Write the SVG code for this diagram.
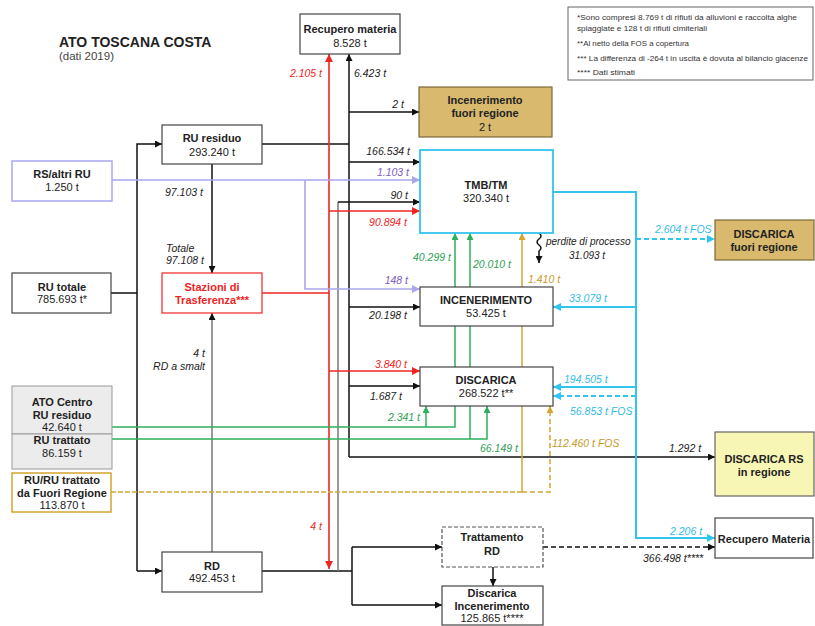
<svg xmlns="http://www.w3.org/2000/svg" width="815" height="626" viewBox="0 0 815 626">
<defs>
<style>
text{font-family:"Liberation Sans",Arial,sans-serif;fill:#222}
.t{font-size:11px;font-weight:bold;text-anchor:middle}
.v{font-size:11px;text-anchor:middle}
.l{font-size:10.5px;font-style:italic}
.e{text-anchor:end}
.box{fill:#fff;stroke:#444;stroke-width:1.2}
.k{stroke:#111;stroke-width:1.5;fill:none}
.g{stroke:#777;stroke-width:1.5;fill:none}
.r{stroke:#f02424;stroke-width:1.6;fill:none}
.p{stroke:#aaa6ee;stroke-width:1.6;fill:none}
.gr{stroke:#2db05c;stroke-width:1.5;fill:none}
.go{stroke:#d4a530;stroke-width:1.5;fill:none}
.c{stroke:#33c4ee;stroke-width:2;fill:none}
.d{stroke-dasharray:5,3}
.note{font-size:8px;fill:#333}
</style>
<marker id="ak" viewBox="0 0 10 10" refX="10" refY="5" markerWidth="7" markerHeight="7" orient="auto" markerUnits="userSpaceOnUse"><path d="M0,0L10,5L0,10z" fill="#111"/></marker>
<marker id="ar" viewBox="0 0 10 10" refX="10" refY="5" markerWidth="8" markerHeight="8" orient="auto" markerUnits="userSpaceOnUse"><path d="M0,0L10,5L0,10z" fill="#f02424"/></marker>
<marker id="ap" viewBox="0 0 10 10" refX="10" refY="5" markerWidth="8" markerHeight="8" orient="auto" markerUnits="userSpaceOnUse"><path d="M0,0L10,5L0,10z" fill="#aaa6ee"/></marker>
<marker id="ag" viewBox="0 0 10 10" refX="10" refY="5" markerWidth="7" markerHeight="7" orient="auto" markerUnits="userSpaceOnUse"><path d="M0,0L10,5L0,10z" fill="#2db05c"/></marker>
<marker id="ao" viewBox="0 0 10 10" refX="10" refY="5" markerWidth="7" markerHeight="7" orient="auto" markerUnits="userSpaceOnUse"><path d="M0,0L10,5L0,10z" fill="#d4a530"/></marker>
<marker id="ac" viewBox="0 0 10 10" refX="10" refY="5" markerWidth="8" markerHeight="8" orient="auto" markerUnits="userSpaceOnUse"><path d="M0,0L10,5L0,10z" fill="#33c4ee"/></marker>
</defs>
<rect width="815" height="626" fill="#fff"/>
<text x="59" y="47" style="font-size:14px;font-weight:bold">ATO TOSCANA COSTA</text>
<text x="59" y="60" style="font-size:11.5px;fill:#444">(dati 2019)</text>
<g id="notes">
<rect x="568" y="7" width="245" height="73" fill="#fff" stroke="#666" stroke-width="1"/>
<text class="note" x="577" y="20" textLength="220" lengthAdjust="spacingAndGlyphs">*Sono compresi 8.769 t di rifiuti da alluvioni e raccolta alghe</text>
<text class="note" x="577" y="31" textLength="130" lengthAdjust="spacingAndGlyphs">spiaggiate e 128 t di rifiuti cimiteriali</text>
<text class="note" x="577" y="46" textLength="112" lengthAdjust="spacingAndGlyphs">**Al netto della FOS a copertura</text>
<text class="note" x="577" y="61" textLength="231" lengthAdjust="spacingAndGlyphs">*** La differenza di -264 t  in uscita è dovuta al bilancio giacenze</text>
<text class="note" x="577" y="75" textLength="58" lengthAdjust="spacingAndGlyphs">**** Dati stimati</text>
</g>
<g id="connectors">
<path class="k" d="M111,293H137"/>
<path class="k" d="M137,571V144H162" marker-end="url(#ak)"/>
<path class="k" d="M137,571H162" marker-end="url(#ak)"/>
<path class="k" d="M212,164V273" marker-end="url(#ak)"/>
<path class="g" d="M212,552V313" marker-end="url(#ak)"/>
<path class="k" d="M262,144H349"/>
<path class="k" d="M349,457V54" marker-end="url(#ak)"/>
<path class="k" d="M349,112H419" marker-end="url(#ak)"/>
<path class="k" d="M349,162H420" marker-end="url(#ak)"/>
<path class="k" d="M349,307H420" marker-end="url(#ak)"/>
<path class="k" d="M349,386H420" marker-end="url(#ak)"/>
<path class="k" d="M349,457H715" marker-end="url(#ak)"/>
<path class="k" d="M262,571H352"/>
<path class="g" d="M338,571V202"/>
<path class="k" d="M338,202H420" marker-end="url(#ak)"/>
<path class="k" d="M352,547V605"/>
<path class="k" d="M352,547H442" marker-end="url(#ak)"/>
<path class="k" d="M352,605H442" marker-end="url(#ak)"/>
<path class="k d" d="M543,547H715" marker-end="url(#ak)"/>
<path class="k" d="M493,567V586" marker-end="url(#ak)"/>
<path class="r" d="M262,293H329"/>
<path class="r" d="M329,293V54" marker-end="url(#ar)"/>
<path class="r" d="M329,293V569" marker-end="url(#ar)"/>
<path class="r" d="M329,211H420" marker-end="url(#ar)"/>
<path class="r" d="M329,371H420" marker-end="url(#ar)"/>
<path class="p" d="M112,180H420" marker-end="url(#ap)"/>
<path class="p" d="M305,180V289H420" marker-end="url(#ap)"/>
<path class="gr" d="M112,427H455V233" marker-end="url(#ag)"/>
<path class="gr" d="M426,427V406" marker-end="url(#ag)"/>
<path class="gr" d="M112,439H487V406" marker-end="url(#ag)"/>
<path class="gr" d="M470,439V233" marker-end="url(#ag)"/>
<path class="go" d="M111,492H522" stroke-dasharray="5,2"/>
<path class="go" d="M522,492V233" marker-end="url(#ao)"/>
<path class="go d" d="M522,492H550V406" marker-end="url(#ao)"/>
<path class="c" d="M553,192H636V538H715" marker-end="url(#ac)"/>
<path class="c d" d="M636,239H715" marker-end="url(#ac)"/>
<path class="c" d="M636,307H553" marker-end="url(#ac)"/>
<path class="c" d="M636,387H553" marker-end="url(#ac)"/>
<path class="c d" d="M636,396H553" marker-end="url(#ac)"/>
<path class="k" stroke-width="1" d="M539,233q4,3 0,6q-4,3 0,6q4,3 0,6V263" marker-end="url(#ak)"/>
</g>
<g id="labels">
<text class="l e" x="322" y="77" style="fill:#f02424">2.105 t</text>
<text class="l" x="354" y="77">6.423 t</text>
<text class="l e" x="404" y="108">2 t</text>
<text class="l e" x="410" y="155">166.534 t</text>
<text class="l e" x="409" y="176" style="fill:#7d5bc0">1.103 t</text>
<text class="l e" x="408" y="199">90 t</text>
<text class="l e" x="407" y="226" style="fill:#f02424">90.894 t</text>
<text class="l" x="165" y="196">97.103 t</text>
<text class="l" x="166" y="252">Totale</text>
<text class="l" x="166" y="264">97.108 t</text>
<text class="l e" x="408" y="284" style="fill:#7d5bc0">148 t</text>
<text class="l e" x="407" y="319">20.198 t</text>
<text class="l e" x="407" y="368" style="fill:#f02424">3.840 t</text>
<text class="l e" x="402" y="400">1.687 t</text>
<text class="l e" x="420" y="421" style="fill:#2e9e55">2.341 t</text>
<text class="l e" x="205" y="357">4 t</text>
<text class="l e" x="205" y="370">RD a smalt</text>
<text class="l e" x="322" y="530" style="fill:#f02424">4 t</text>
<text class="l" x="413" y="261" style="fill:#2e9e55">40.299 t</text>
<text class="l" x="473" y="268" style="fill:#2e9e55">20.010 t</text>
<text class="l" x="528" y="283" style="fill:#c8992a">1.410 t</text>
<text class="l" x="546" y="245" style="font-size:10px">perdite di processo</text>
<text class="l" x="569" y="259" style="font-size:10px">31.093 t</text>
<text class="l" x="655" y="233" style="fill:#33bbe8">2.604 t FOS</text>
<text class="l" x="569" y="302" style="fill:#33bbe8">33.079 t</text>
<text class="l" x="564" y="383" style="fill:#33bbe8">194.505 t</text>
<text class="l" x="570" y="415" style="fill:#33bbe8">56.853 t FOS</text>
<text class="l" x="552" y="447" style="fill:#c8992a">112.460 t FOS</text>
<text class="l" x="480" y="452" style="fill:#2e9e55">66.149 t</text>
<text class="l" x="669" y="452">1.292 t</text>
<text class="l" x="670" y="535" style="fill:#33bbe8">2.206 t</text>
<text class="l" x="643" y="562">366.498 t****</text>
</g>
<g id="recupero-materia-top"><rect class="box" x="300" y="14" width="100" height="40"/><text class="t" x="350" y="33">Recupero materia</text><text class="v" x="350" y="47">8.528 t</text></g>
<g id="incenerimento-fuori"><rect x="419" y="87" width="133" height="50" fill="#d8b96e" stroke="#7d6a3a" stroke-width="1.2"/><text class="t" x="485" y="104">Incenerimento</text><text class="t" x="485" y="117">fuori regione</text><text class="v" x="485" y="131">2 t</text></g>
<g id="ru-residuo"><rect class="box" x="162" y="125" width="100" height="39"/><text class="t" x="212" y="142">RU residuo</text><text class="v" x="212" y="156">293.240 t</text></g>
<g id="rs-altri"><rect x="12" y="161" width="100" height="40" fill="#fff" stroke="#a9a6ee" stroke-width="1.5"/><text class="t" x="62" y="178">RS/altri RU</text><text class="v" x="62" y="191">1.250 t</text></g>
<g id="ru-totale"><rect class="box" x="12" y="273" width="99" height="40"/><text class="t" x="62" y="291">RU totale</text><text class="v" x="62" y="303">785.693 t*</text></g>
<g id="stazioni"><rect x="162" y="273" width="100" height="40" fill="#fff" stroke="#f02424" stroke-width="1.2"/><text class="t" x="212" y="291" style="fill:#f02424">Stazioni di</text><text class="t" x="212" y="304" style="fill:#f02424">Trasferenza***</text></g>
<g id="tmb"><rect x="420" y="150" width="133" height="83" fill="#fff" stroke="#33c4ee" stroke-width="1.8"/><text class="t" x="486" y="189">TMB/TM</text><text class="v" x="486" y="202">320.340 t</text></g>
<g id="discarica-fuori"><rect x="715" y="220" width="99" height="40" fill="#d8b96e" stroke="#7d6a3a" stroke-width="1.2"/><text class="t" x="764" y="238">DISCARICA</text><text class="t" x="764" y="251">fuori regione</text></g>
<g id="incenerimento"><rect class="box" x="420" y="287" width="133" height="39"/><text class="t" x="486" y="304">INCENERIMENTO</text><text class="v" x="486" y="317">53.425 t</text></g>
<g id="discarica"><rect class="box" x="420" y="367" width="133" height="39"/><text class="t" x="486" y="384">DISCARICA</text><text class="v" x="486" y="397">268.522 t**</text></g>
<g id="ato-centro"><rect x="12" y="386" width="100" height="48" fill="#ececec" stroke="#999" stroke-width="1"/><text class="t" x="62" y="406">ATO Centro</text><text class="t" x="62" y="419">RU residuo</text><text class="v" x="62" y="431">42.640 t</text></g>
<g id="ru-trattato"><rect x="12" y="434" width="100" height="35" fill="#ececec" stroke="#999" stroke-width="1"/><text class="t" x="62" y="444">RU trattato</text><text class="v" x="62" y="457">86.159 t</text></g>
<g id="ru-fuori-regione"><rect x="12" y="473" width="99" height="39" fill="#fff" stroke="#d4a530" stroke-width="1.5"/><text class="t" x="62" y="484">RU/RU trattato</text><text class="t" x="62" y="497">da Fuori Regione</text><text class="v" x="62" y="509">113.870 t</text></g>
<g id="discarica-rs"><rect x="715" y="432" width="99" height="64" fill="#f8f6b4" stroke="#666" stroke-width="1.2"/><text class="t" x="764" y="463">DISCARICA RS</text><text class="t" x="764" y="476">in regione</text></g>
<g id="rd"><rect class="box" x="162" y="552" width="100" height="40"/><text class="t" x="212" y="570">RD</text><text class="v" x="212" y="582">492.453 t</text></g>
<g id="trattamento-rd"><rect x="442" y="527" width="101" height="40" fill="#fff" stroke="#555" stroke-width="1.2" stroke-dasharray="4,2"/><text class="t" x="492" y="541">Trattamento</text><text class="t" x="492" y="555">RD</text></g>
<g id="discarica-incenerimento"><rect class="box" x="442" y="586" width="101" height="39"/><text class="t" x="492" y="597">Discarica</text><text class="t" x="492" y="610">Incenerimento</text><text class="v" x="492" y="622">125.865 t****</text></g>
<g id="recupero-materia"><rect class="box" x="715" y="518" width="98" height="40"/><text class="t" x="764" y="543">Recupero Materia</text></g>
</svg>
